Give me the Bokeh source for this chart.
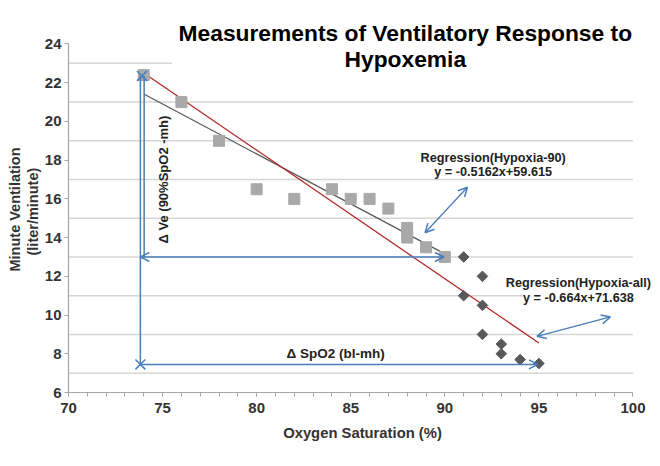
import math
from bokeh.plotting import figure
from bokeh.models import (Range1d, FixedTicker, SingleIntervalTicker, Arrow, OpenHead,
                          Label, BoxAnnotation, Title)
from bokeh.embed import file_html
from bokeh.resources import INLINE

# ---- data ----
h90_spo2 = [74, 76, 78, 80, 82, 84, 85, 86, 87, 88, 88, 89, 90]
h90_ve = [22.4, 21, 19, 16.5, 16, 16.5, 16, 16, 15.5, 14.5, 14, 13.5, 13]
hall_spo2 = [91, 92, 91, 92, 92, 93, 93, 94, 95]
hall_ve = [13, 12, 11, 10.5, 9, 8.5, 8, 7.7, 7.5]

reg90_slope, reg90_intercept = -0.5162, 59.615
reg90_range = [74, 90]
regall_slope, regall_intercept = -0.664, 71.638
regall_range = [74, 95]

x_ticks = [70, 75, 80, 85, 90, 95, 100]
y_ticks = [6, 8, 10, 12, 14, 16, 18, 20, 22, 24]
grid_levels = [7, 9, 11, 13, 15, 17, 19, 21, 23]

FONT = "Liberation Sans"
BLUE = "#4a7ebb"
X_MIN, X_MAX = x_ticks[0], x_ticks[-1]

p = figure(width=656, height=464, x_range=Range1d(70, 101.25), y_range=Range1d(6, 25.73),
           output_backend="svg", toolbar_location=None,
           min_border_left=68, min_border_right=0, min_border_top=10, min_border_bottom=72)
p.outline_line_color = None
p.background_fill_color = "white"
p.border_fill_color = "white"
p.xgrid.visible = False
p.ygrid.visible = False

# horizontal gridlines (limited to the axis extent)
n = len(grid_levels)
p.segment(x0=[X_MIN] * n, y0=grid_levels, x1=[X_MAX] * n, y1=grid_levels,
          line_color="#d6d6d6", line_width=1.5)

# axes
p.yaxis.ticker = FixedTicker(ticks=y_ticks)
p.yaxis.bounds = (y_ticks[0], y_ticks[-1])
p.xaxis.ticker = SingleIntervalTicker(interval=5, num_minor_ticks=5)
p.xaxis.bounds = (X_MIN, X_MAX)
for ax in (p.xaxis[0], p.yaxis[0]):
    ax.axis_line_color = "#a6a6a6"
    ax.axis_line_width = 1.2
    ax.major_tick_line_color = "#a6a6a6"
    ax.minor_tick_line_color = "#a6a6a6"
    ax.major_tick_in = 0
    ax.major_tick_out = 4
    ax.minor_tick_in = 0
    ax.minor_tick_out = 4
    ax.major_label_text_font = FONT
    ax.major_label_text_font_style = "bold"
    ax.major_label_text_font_size = "15px"
    ax.major_label_text_color = "#333333"
    ax.axis_label_text_font = FONT
    ax.axis_label_text_font_style = "bold"
    ax.axis_label_text_font_size = "14.8px"
    ax.axis_label_text_color = "#333333"
p.yaxis.minor_tick_line_color = None
p.yaxis.major_label_standoff = 3
p.xaxis.major_label_standoff = 6
p.xaxis.axis_label = "Oxygen Saturation (%)"
p.xaxis.axis_label_standoff = 9

# y-axis title as two left-side titles, centred on the 6..24 span (not the whole frame)
for txt, off in (("(liter/minute)", 137), ("Minute Ventilation", 121)):
    p.add_layout(Title(text=txt, align="left", offset=off, vertical_align="middle",
                       standoff=0, text_font=FONT, text_font_style="bold",
                       text_font_size="14.5px", text_color="#333333"), "left")

# regression lines (from the equations printed on the chart)
reg90_y = [reg90_slope * x + reg90_intercept for x in reg90_range]
regall_y = [regall_slope * x + regall_intercept for x in regall_range]
p.line(reg90_range, reg90_y, line_color="#595959", line_width=1.3)
p.line(regall_range, regall_y, line_color="#b52a2a", line_width=1.3)

# points
p.scatter(h90_spo2, h90_ve, marker="square", size=11, fill_color="#a9a9a9",
          line_color="#a9a9a9")
p.scatter(hall_spo2, hall_ve, marker="square", angle=math.pi / 4, size=7.5,
          fill_color="#595959", line_color="#595959")

# white-out behind the title (part of the top gridline is hidden in the original)
p.add_layout(BoxAnnotation(left=75.5, right=100, bottom=22.6, top=25.73,
                           fill_color="white", fill_alpha=1.0, line_color=None))

# ---- blue measurement arrows ----
def head():
    return OpenHead(size=9, line_color=BLUE, line_width=1.5)

p.add_layout(Arrow(x_start=73.82, y_start=22.35, x_end=73.82, y_end=7.45,
                   start=None, end=None, line_color=BLUE, line_width=1.5))
p.add_layout(Arrow(x_start=74.02, y_start=22.35, x_end=74.02, y_end=13.0,
                   start=None, end=None, line_color=BLUE, line_width=1.5))
p.add_layout(Arrow(x_start=73.82, y_start=13.0, x_end=89.95, y_end=13.0,
                   start=head(), end=head(), line_color=BLUE, line_width=1.5))
p.add_layout(Arrow(x_start=73.82, y_start=7.45, x_end=94.95, y_end=7.45,
                   start=None, end=head(), line_color=BLUE, line_width=1.5))
p.add_layout(Arrow(x_start=88.95, y_start=14.25, x_end=91.2, y_end=16.6,
                   start=head(), end=head(), line_color=BLUE, line_width=1.3))
p.add_layout(Arrow(x_start=94.9, y_start=8.9, x_end=98.8, y_end=9.9,
                   start=head(), end=head(), line_color=BLUE, line_width=1.3))
p.scatter([73.9, 73.82], [22.35, 7.45], marker="x", size=14, line_color=BLUE, line_width=1.5)

# ---- texts ----
def lab(x, y, text, size="12px", angle=0.0, color="#222222", bg=None):
    l = Label(x=x, y=y, text=text, angle=angle, text_font=FONT, text_font_style="bold",
              text_font_size=size, text_color=color, text_align="center",
              text_baseline="middle")
    if bg:
        l.background_fill_color = bg
        l.background_fill_alpha = 1.0
    p.add_layout(l)

lab(87.9, 24.57, "Measurements of Ventilatory Response to", size="22.8px", color="black")
lab(87.9, 23.23, "Hypoxemia", size="22.8px", color="black")
lab(75.05, 17.0, "Δ Ve (90%SpO2 -mh)", size="13px", angle=math.pi / 2)
lab(84.2, 8.0, "Δ SpO2 (bl-mh)", size="13.5px")
lab(92.57, 18.12, "Regression(Hypoxia-90)", size="12.7px")
lab(92.57, 17.4, "y = -0.5162x+59.615", size="12.7px")
lab(97.1, 11.68, "Regression(Hypoxia-all)", size="12.7px", bg="white")
lab(97.1, 10.9, "y = -0.664x+71.638", size="12.7px", bg="white")

open("out.html", "w").write(file_html(p, INLINE))
